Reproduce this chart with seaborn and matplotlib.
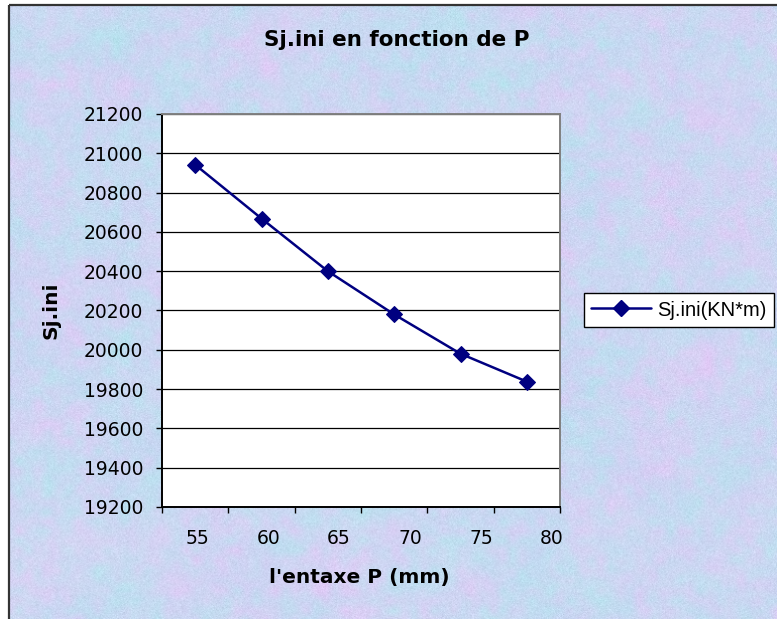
import numpy as np
import pandas as pd
import matplotlib
matplotlib.use("Agg")
import matplotlib.pyplot as plt
from matplotlib.patches import Rectangle
from matplotlib.lines import Line2D
import seaborn as sns

# Data: initial joint stiffness vs bolt spacing
entraxe = ["55", "60", "65", "70", "75", "80"]
sj_ini = [20942, 20668, 20400, 20180, 19980, 19838]
y_ticks = [19200, 19400, 19600, 19800, 20000, 20200, 20400, 20600, 20800, 21000, 21200]

sns.set_theme(style="white")
plt.rcParams["font.family"] = ["DejaVu Sans"]
plt.rcParams.update({"text.color": "black", "xtick.color": "black",
                     "ytick.color": "black", "axes.labelcolor": "black"})

W, H = 777, 619
fig = plt.figure(figsize=(W / 100, H / 100), dpi=100)
fig.patch.set_facecolor("white")

# Mottled pastel backdrop
rng = np.random.default_rng(7)

def smooth_field(h, w, cell):
    gh, gw = h // cell + 2, w // cell + 2
    g = rng.random((gh, gw))
    yy = np.linspace(0, gh - 1.001, h)
    xx = np.linspace(0, gw - 1.001, w)
    y0 = yy.astype(int); x0 = xx.astype(int)
    fy = (yy - y0)[:, None]; fx = (xx - x0)[None, :]
    a = g[y0][:, x0]; b = g[y0][:, x0 + 1]
    c = g[y0 + 1][:, x0]; d = g[y0 + 1][:, x0 + 1]
    return (a * (1 - fx) + b * fx) * (1 - fy) + (c * (1 - fx) + d * fx) * fy

h, w = H, W
pink = smooth_field(h, w, 40) * 0.5 + smooth_field(h, w, 10) * 0.5
cyan = smooth_field(h, w, 36) * 0.5 + smooth_field(h, w, 9) * 0.5
base = np.array([203, 215, 242], float)
tex = np.empty((h, w, 3))
tex[..., 0] = base[0] + (pink - 0.5) * 38 - (cyan - 0.5) * 18
tex[..., 1] = base[1] - (pink - 0.5) * 18 + (cyan - 0.5) * 18
tex[..., 2] = base[2] + (pink - 0.5) * 6 - (cyan - 0.5) * 4
tex += rng.normal(0, 5, (h, w, 1))
tex = np.clip(tex, 0, 255) / 255.0

bg = fig.add_axes([0, 0, 1, 1], zorder=-10)
bg.imshow(tex, extent=[9, W + 2, H + 2, 5], aspect="auto", interpolation="bilinear")
bg.set_xlim(0, W); bg.set_ylim(H, 0)
bg.axis("off")
bg.add_patch(Rectangle((9, 5), W, H, fill=False, edgecolor="#333333", linewidth=1.6))

# Plot area
ax = fig.add_axes([162 / W, 1 - 507 / H, (560 - 162) / W, (507 - 114) / H])
ax.set_facecolor("white")

df = pd.DataFrame({"P": entraxe, "Sj": sj_ini})
df["pos"] = np.arange(len(df))
sns.lineplot(data=df, x="pos", y="Sj", ax=ax, color="#000080", linewidth=1.8,
             marker="D", markersize=8.5, markeredgecolor="#000080", legend=False)

ax.set_xlim(-0.5, len(entraxe) - 0.5)
ax.set_ylim(y_ticks[0], y_ticks[-1])
ax.set_yticks(y_ticks)
ax.set_yticklabels([str(v) for v in y_ticks])
ax.yaxis.grid(True, color="black", linewidth=0.9)
ax.xaxis.grid(False)

# Category boundaries carry tick marks; labels sit on their own ticks
ax.set_xticks(np.arange(len(entraxe) + 1) - 0.5)
ax.set_xticklabels([])
label_pos = 0.03 + 1.07 * np.arange(len(entraxe))
ax.set_xticks(label_pos, minor=True)
ax.set_xticklabels(entraxe, minor=True)
ax.tick_params(axis="x", which="major", direction="out", length=4, width=1, color="black", bottom=True)
ax.tick_params(axis="x", which="minor", length=0, pad=16, labelsize=13.5, labelcolor="black")
ax.tick_params(axis="y", which="major", direction="out", length=4.5, width=1, color="black",
               left=True, pad=9, labelsize=13.5, labelcolor="black")

for side in ["top", "right"]:
    ax.spines[side].set_color("#808080")
    ax.spines[side].set_linewidth(1.4)
for side in ["left", "bottom"]:
    ax.spines[side].set_color("black")
    ax.spines[side].set_linewidth(1.4)
ax.set_xlabel(""); ax.set_ylabel("")

fig.text(397 / W, 1 - 40 / H, "Sj.ini en fonction de P", ha="center", va="center",
         fontsize=15.5, fontweight="bold", color="black")
fig.text(359 / W, 1 - 578 / H, "l'entaxe P (mm)", ha="center", va="center",
         fontsize=14.5, fontweight="bold", color="black")
fig.text(51 / W, 1 - 310 / H, "Sj.ini", ha="center", va="center", rotation=90,
         fontsize=14.5, fontweight="bold", color="black")

handle = Line2D([], [], color="#000080", linewidth=1.8, marker="D", markersize=8.5)
leg = fig.legend([handle], ["Sj.ini(KN*m)"], loc="center left",
                 bbox_to_anchor=(584 / W, 1 - 310 / H), frameon=True, fancybox=False,
                 edgecolor="black", facecolor="white", framealpha=1,
                 prop={"family": "Liberation Sans", "size": 14.5},
                 handlelength=3.0, handletextpad=0.3, borderpad=0.35, borderaxespad=0)
for t in leg.get_texts():
    t.set_color("black")
leg.get_frame().set_linewidth(1.0)

fig.savefig("out.png", dpi=100, facecolor=fig.get_facecolor())
